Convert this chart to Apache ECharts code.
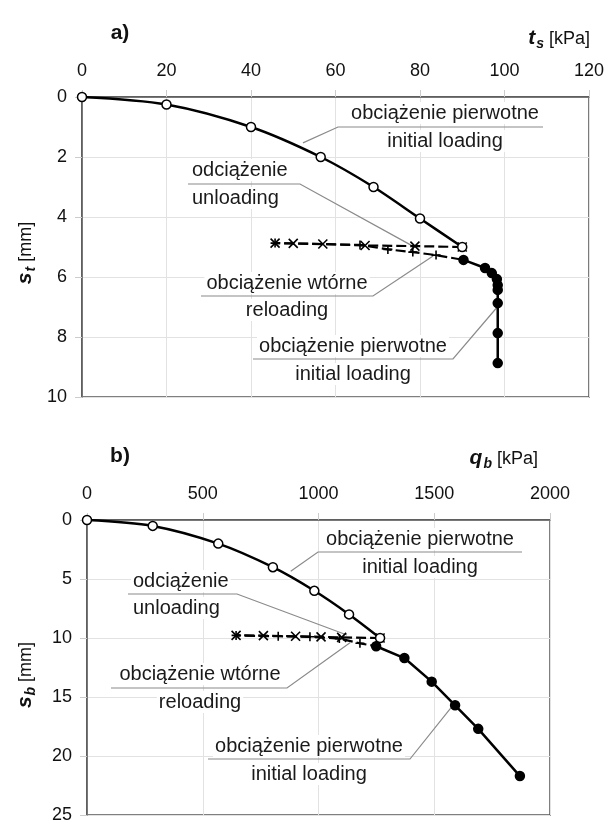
<!DOCTYPE html>
<html><head><meta charset="utf-8">
<script src="https://cdn.jsdelivr.net/npm/echarts@6/dist/echarts.min.js"></script>
<style>html,body{margin:0;padding:0;background:#fff}#c{width:607px;height:824px}</style>
</head><body><div id="c"></div>
<script>
// ---------- a) shaft resistance t_s [kPa] vs settlement s_t [mm]
const tsTicks = [0, 20, 40, 60, 80, 100, 120];
const stTicks = [0, 2, 4, 6, 8, 10];
const aInitial1  = [[0,0],[20,0.25],[40,1.0],[56.5,2.0],[69,3.0],[80,4.05],[90,5.0]];
const aUnloading = [[90,5.0],[78.8,4.97],[67,4.95],[57,4.9],[50,4.88],[45.7,4.87]];
const aReloading = [[45.7,4.87],[65.8,4.93],[72.4,5.08],[78.3,5.17],[83.8,5.27],[90.3,5.43]];
const aInitial2  = [[90.3,5.43],[95.4,5.7],[97,5.87],[98.2,6.07],[98.4,6.27],[98.4,6.43],[98.4,6.87],[98.4,7.87],[98.4,8.87]];
// ---------- b) base resistance q_b [kPa] vs settlement s_b [mm]
const qbTicks = [0, 500, 1000, 1500, 2000];
const sbTicks = [0, 5, 10, 15, 20, 25];
const bInitial1  = [[0,0],[284,0.5],[567,2.0],[803,4.0],[982,6.0],[1132,8.0],[1266,10.0]];
const bUnloading = [[1266,10.0],[1100,9.95],[1011,9.9],[901,9.85],[762,9.8],[644,9.78]];
const bReloading = [[644,9.78],[826,9.85],[963,9.9],[1090,10.05],[1179,10.45],[1249,10.7]];
const bInitial2  = [[1249,10.7],[1371,11.7],[1489,13.7],[1590,15.7],[1690,17.7],[1870,21.7]];
// ---------- annotation texts and the data point each leader points to
const txtInitial = ['obciążenie pierwotne', 'initial loading'];
const txtUnload  = ['odciążenie', 'unloading'];
const txtReload  = ['obciążenie wtórne', 'reloading'];
const aLeaderTargets = [[52.3,1.53],[78.3,4.97],[83.1,5.3],[98.3,7.0]];
const bLeaderTargets = [[880,4.35],[1123,9.75],[1136,10.4],[1577,15.8]];

const FONT = '"Liberation Sans", Arial, sans-serif';
const chart = echarts.init(document.getElementById('c'), null, {renderer: 'canvas'});

function xAxisCfg(ticks, gi) {
  return {
    gridIndex: gi, type: 'value', position: 'top',
    min: ticks[0], max: ticks[ticks.length-1], interval: ticks[1]-ticks[0],
    axisLine: {show: true, onZero: false, lineStyle: {color: '#555', width: 1.5}},
    axisTick: {show: true, inside: false, length: 7, lineStyle: {color: '#ccc'}},
    axisLabel: {margin: 17, fontSize: 18, color: '#111', fontFamily: FONT, formatter: function (v) { return String(v); }},
    splitLine: {show: true, lineStyle: {color: '#e2e2e2', width: 1}}
  };
}
function yAxisCfg(ticks, gi) {
  return {
    gridIndex: gi, type: 'value', inverse: true,
    min: ticks[0], max: ticks[ticks.length-1], interval: ticks[1]-ticks[0],
    axisLine: {show: true, onZero: false, lineStyle: {color: '#555', width: 1.5}},
    axisTick: {show: true, length: 7, lineStyle: {color: '#ccc'}},
    axisLabel: {margin: 15, fontSize: 18, color: '#111', fontFamily: FONT, formatter: function (v) { return String(v); }},
    splitLine: {show: true, lineStyle: {color: '#e2e2e2', width: 1}}
  };
}
const CROSS = 'path://M0,0L10,10M10,0L0,10';
const PLUS = 'path://M5,0L5,10M0,5L10,5';
function initSeries(data, gi, filled) {
  return {
    type: 'line', xAxisIndex: gi, yAxisIndex: gi, data: data, smooth: filled ? false : 0.3,
    symbol: 'circle', symbolSize: 9, z: 4,
    lineStyle: {color: '#000', width: 2.5},
    itemStyle: {color: filled ? '#000' : '#fff', borderColor: '#000', borderWidth: 1.5}
  };
}
function cycleSeries(data, gi, sym, offset) {
  return {
    type: 'line', xAxisIndex: gi, yAxisIndex: gi, data: data, smooth: false,
    symbol: sym, symbolSize: 9, z: 3,
    lineStyle: {color: '#000', width: 2.2, type: [10, 4], dashOffset: offset},
    itemStyle: {color: 'none', borderColor: '#000', borderWidth: 1.6}
  };
}

function richTitle(main, sub, unit) {
  return {
    text: '{m|' + main + '}{s|' + sub + '}{u| ' + unit + '}',
    rich: {
      m: {fontSize: 21, fontWeight: 'bold', fontStyle: 'italic', fontFamily: FONT, fill: '#111', verticalAlign: 'bottom'},
      s: {fontSize: 14, fontWeight: 'bold', fontStyle: 'italic', fontFamily: FONT, fill: '#111', verticalAlign: 'bottom', padding: [0, 0, -3, 1]},
      u: {fontSize: 18, fontFamily: FONT, fill: '#111', verticalAlign: 'bottom'}
    }
  };
}

chart.setOption({
  animation: false,
  backgroundColor: '#fff',
  grid: [
    {left: 82, top: 97, width: 507, height: 300, show: true, borderColor: '#555', borderWidth: 1.5, backgroundColor: 'transparent'},
    {left: 87, top: 520, width: 463, height: 300, show: true, borderColor: '#555', borderWidth: 1.5, backgroundColor: 'transparent'}
  ],
  xAxis: [xAxisCfg(tsTicks, 0), xAxisCfg(qbTicks, 1)],
  yAxis: [yAxisCfg(stTicks, 0), yAxisCfg(sbTicks, 1)],
  series: [
    initSeries(aInitial1, 0, false),
    cycleSeries(aUnloading, 0, CROSS, 0),
    cycleSeries(aReloading, 0, PLUS, 5),
    initSeries(aInitial2, 0, true),
    initSeries(bInitial1, 1, false),
    cycleSeries(bUnloading, 1, CROSS, 0),
    cycleSeries(bReloading, 1, PLUS, 5),
    initSeries(bInitial2, 1, true)
  ]
});

// annotation layout: [texts, align, textX, y1, y2, underlineY, ux1, ux2, leaderFrom('l'|'r')]
const aLayout = [
  [txtInitial, 'center', 445, 113, 141, 127, 338, 543, 'l'],
  [txtUnload,  'left',   190, 170, 198, 184, 188, 300, 'r'],
  [txtReload,  'center', 287, 283, 310, 296, 201, 373, 'r'],
  [txtInitial, 'center', 353, 346, 374, 359, 253, 453, 'r']
];
const bLayout = [
  [txtInitial, 'center', 420, 539, 567, 552, 318, 522, 'l'],
  [txtUnload,  'left',   131, 581, 608, 594, 128, 237, 'r'],
  [txtReload,  'center', 200, 674, 702, 688, 111, 287, 'r'],
  [txtInitial, 'center', 309, 746, 774, 759, 208, 410, 'r']
];

const graphics = [];
function addAnn(layout, targets, gi) {
  layout.forEach(function (L, i) {
    const p = chart.convertToPixel({gridIndex: gi}, targets[i]);
    const sx = L[8] === 'l' ? L[6] : L[7];
    const other = L[8] === 'l' ? L[7] : L[6];
    [L[3], L[4]].forEach(function (yy, k) {
      graphics.push({
        type: 'text', x: L[2], y: yy, z: 1,
        style: {text: L[0][k], fontSize: 20, fontFamily: FONT, fill: '#1a1a1a',
                align: L[1], verticalAlign: 'middle', backgroundColor: '#fff', padding: [1, 2]}
      });
    });
    graphics.push({
      type: 'polyline', z: 2,
      shape: {points: [[other, L[5]], [sx, L[5]], p]},
      style: {stroke: '#8a8a8a', lineWidth: 1.2, fill: null}
    });
  });
}
addAnn(aLayout, aLeaderTargets, 0);
addAnn(bLayout, bLeaderTargets, 1);

// panel titles and axis titles
graphics.push({type: 'text', x: 120, y: 33, style: {text: 'a)', fontSize: 21, fontWeight: 'bold', fontFamily: FONT, fill: '#111', align: 'center', verticalAlign: 'middle'}});
graphics.push({type: 'text', x: 120, y: 456, style: {text: 'b)', fontSize: 21, fontWeight: 'bold', fontFamily: FONT, fill: '#111', align: 'center', verticalAlign: 'middle'}});
graphics.push({type: 'text', x: 590, y: 38, style: Object.assign(richTitle('t', 's', '[kPa]'), {align: 'right', verticalAlign: 'middle'})});
graphics.push({type: 'text', x: 538, y: 458, style: Object.assign(richTitle('q', 'b', '[kPa]'), {align: 'right', verticalAlign: 'middle'})});
graphics.push({type: 'text', x: 25, y: 253, rotation: Math.PI / 2, style: Object.assign(richTitle('s', 't', '[mm]'), {align: 'center', verticalAlign: 'middle'})});
graphics.push({type: 'text', x: 25, y: 675, rotation: Math.PI / 2, style: Object.assign(richTitle('s', 'b', '[mm]'), {align: 'center', verticalAlign: 'middle'})});

chart.setOption({graphic: graphics});
</script></body></html>
